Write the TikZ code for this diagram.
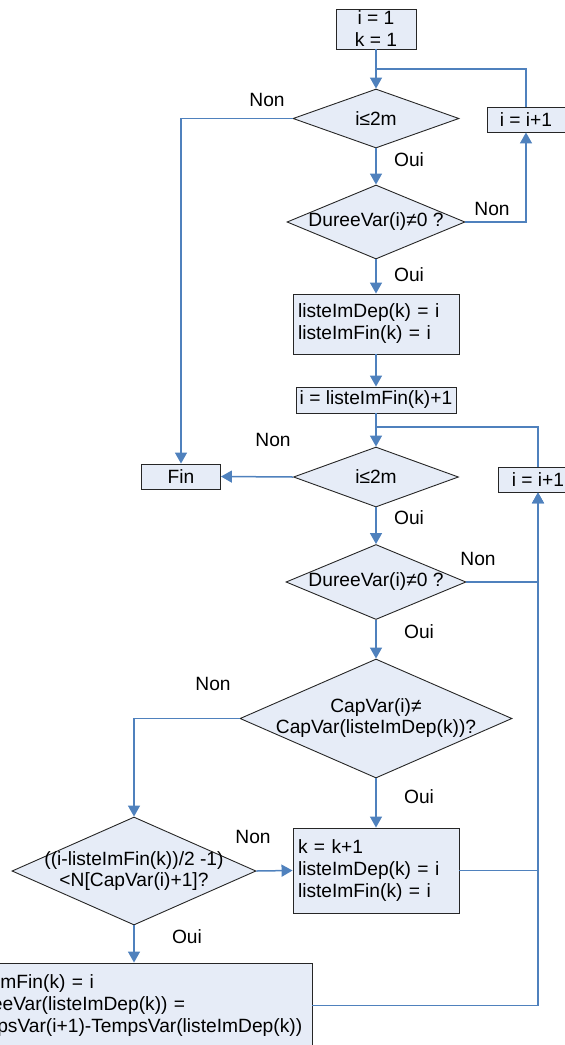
\documentclass[tikz,border=0pt]{standalone}
\usepackage{fontspec}
\setmainfont{Liberation Sans}
\usetikzlibrary{shapes.geometric,arrows.meta}

\definecolor{flowblue}{RGB}{79,129,189}
\definecolor{boxfill}{RGB}{230,236,247}

\tikzset{
  process/.style={rectangle, draw=black!85, fill=boxfill, line width=0.9pt, inner sep=1pt, align=center},
  listbox/.style={process, inner xsep=5pt, align=left},
  decision/.style={diamond, draw=black!85, fill=boxfill, line width=0.9pt, inner sep=0pt},
  flow/.style={-{Triangle[width=12pt,length=11pt]}, flowblue, line width=1.5pt},
  link/.style={flowblue, line width=1.5pt},
  answer/.style={inner sep=0pt}
}

\begin{document}
\begin{tikzpicture}[x=1pt, y=-1pt, font=\fontsize{19.2}{22}\selectfont]
  % 1. Page frame (the drawing runs off the left, right and bottom edges)
  \useasboundingbox (0,0) rectangle (565,1045);
  \clip (0,0) rectangle (565,1045);

  % 2. First loop: search the first variable with a duration
  \node[process, minimum width=80, minimum height=40] (init) at (376,29) {i = 1\\k = 1};
  \node[decision, minimum width=166, minimum height=59, label=center:{i≤2m}] (test1) at (376,118.5) {};
  \node[process, minimum width=78, minimum height=25] (incr1) at (526,119.5) {i = i+1};
  \node[decision, minimum width=178, minimum height=74, label=center:{DureeVar(i)≠0 ?}] (test2) at (376,222) {};
  \node[listbox, text width=156, minimum height=60] (set1) at (376,324) {listeImDep(k) = i\\listeImFin(k) = i};
  \node[process, minimum width=160, minimum height=26] (init2) at (376,400) {i = listeImFin(k)+1};
  \coordinate (join1) at (376,69);

  % 3. Second loop
  \node[decision, minimum width=165, minimum height=60, label=center:{i≤2m}] (test3) at (376,477) {};
  \node[process, minimum width=79, minimum height=25] (fin) at (181,476.5) {Fin};
  \node[process, minimum width=80, minimum height=25] (incr2) at (538,479.5) {i = i+1};
  \node[decision, minimum width=180, minimum height=75, label=center:{DureeVar(i)≠0 ?}] (test4) at (376,582) {};
  \node[decision, minimum width=272, minimum height=119,
        label={[align=center, font=\fontsize{19.2}{21}\selectfont]center:CapVar(i)≠\\CapVar(listeImDep(k))?}] (test5) at (376,718.5) {};
  \node[decision, minimum width=244, minimum height=108,
        label={[align=center, font=\fontsize{19.2}{20.5}\selectfont]center:((i-listeImFin(k))/2 -1)\\<N[CapVar(i)+1]?}] (test6) at (134,871) {};
  \node[listbox, text width=156, minimum height=85] (set2) at (376,870.5) {k = k+1\\listeImDep(k) = i\\listeImFin(k) = i};
  \node[listbox, text width=346, minimum height=85] (set3) at (134,1005.5)
        {listeImFin(k) = i\\DureeVar(listeImDep(k)) =\\TempsVar(i+1)-TempsVar(listeImDep(k))};
  \coordinate (join2) at (376,427);

  % 4. Connectors
  \draw[flow] (init) -- (test1);
  \draw[link] (incr1.north) |- (join1);
  \draw[flow] (test1.west) -| (fin.north);
  \draw[flow] (test1) -- (test2);
  \draw[flow] (test2.east) -| (incr1.south);
  \draw[flow] (test2) -- (set1);
  \draw[flow] (set1) -- (init2);
  \draw[flow] (init2) -- (test3);
  \draw[link] (incr2.north) |- (join2);
  \draw[flow] (test3.west) -- (fin.east);
  \draw[flow] (test3) -- (test4);
  \draw[flow] (test4.east) -| (incr2.south);
  \draw[flow] (test4) -- (test5);
  \draw[flow] (test5.west) -| (test6.north);
  \draw[flow] (test5) -- (set2);
  \draw[flow] (test6.east) -- (set2.west);
  \draw[flow] (test6) -- (set3);
  \draw[link] (set2.east) -- (set2.east -| incr2.south);
  \draw[flow] (set3.east) -| (incr2.south);

  % 5. Answers
  \node[answer] (non1) at (267,100) {Non};
  \node[answer] (oui1) at (409,160) {Oui};
  \node[answer] (non2) at (492,209) {Non};
  \node[answer] (oui2) at (409,275) {Oui};
  \node[answer] (non3) at (273,440) {Non};
  \node[answer] (oui3) at (409,518) {Oui};
  \node[answer] (non4) at (478,559) {Non};
  \node[answer] (oui4) at (419,632) {Oui};
  \node[answer] (non5) at (213,684) {Non};
  \node[answer] (oui5) at (419,797) {Oui};
  \node[answer] (non6) at (253,837) {Non};
  \node[answer] (oui6) at (187,937) {Oui};
\end{tikzpicture}
\end{document}
